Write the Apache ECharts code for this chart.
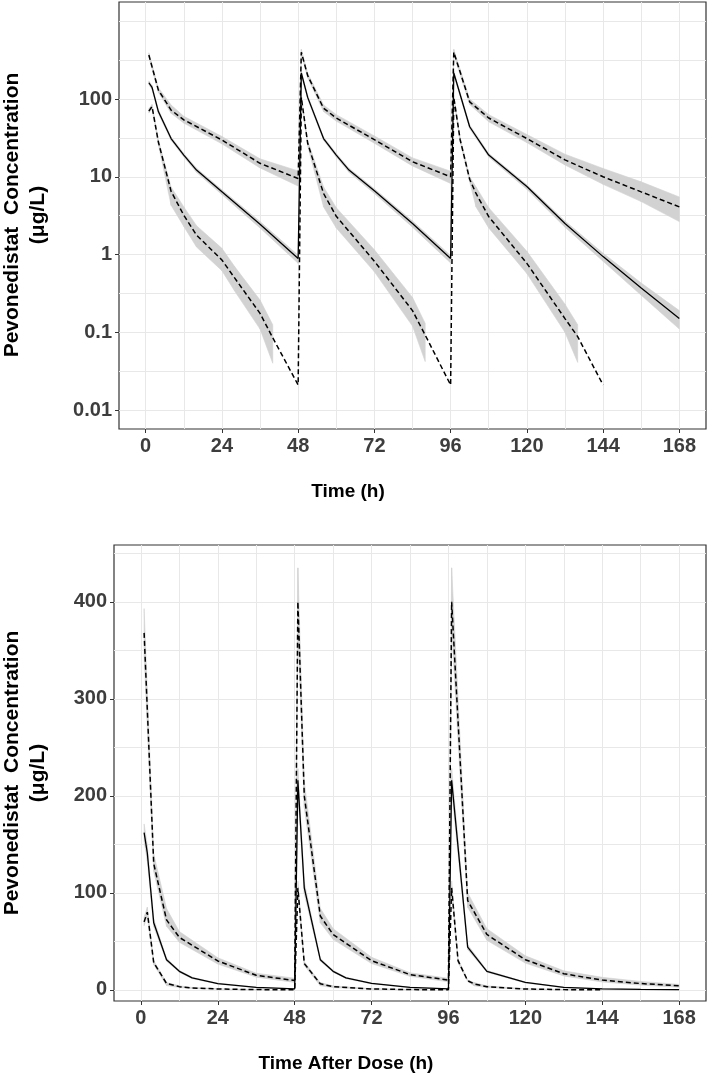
<!DOCTYPE html>
<html><head><meta charset="utf-8">
<script src="https://cdn.jsdelivr.net/npm/echarts@6/dist/echarts.min.js"></script>
<style>html,body{margin:0;padding:0;background:#fff}#c{width:709px;height:1079px}</style>
</head><body><div id="c"></div>
<script>
// ---------------- data ----------------
const xTicks = [0, 24, 48, 72, 96, 120, 144, 168];
const xMinorTicks = [12, 36, 60, 84, 108, 132, 156];
const logTicks = [0.01, 0.1, 1, 10, 100];
const logMinorTicks = [0.0316, 0.316, 3.16, 31.6, 316, 1000];
const linTicks = [0, 100, 200, 300, 400];
const linMinorTicks = [50, 150, 250, 350, 450];

// median (solid line)
const medTime = [1, 2, 4, 8, 12, 16, 24, 36, 48, 49, 51, 56, 60, 64, 72, 84, 96, 97, 102, 108, 120, 132, 144, 156, 168];
const medConc = [162, 141, 69, 31, 19, 12.2, 6.4, 2.45, 0.89, 216, 105, 31, 19, 12.2, 6.6, 2.5, 0.89, 216, 44, 19, 7.5, 2.5, 0.94, 0.37, 0.15];
const medLo   = [153, 133, 65, 29.5, 18, 11.4, 5.9, 2.2, 0.77, 205, 99, 29.5, 18, 11.4, 6.1, 2.25, 0.78, 205, 41.5, 18, 6.9, 2.25, 0.82, 0.3, 0.11];
const medHi   = [171, 149, 73, 32.5, 20, 12.9, 6.8, 2.65, 0.98, 228, 111, 32.5, 20, 12.9, 7.0, 2.7, 0.97, 228, 46.5, 20, 7.9, 2.7, 1.04, 0.43, 0.19];

// upper percentile (dashed)
const p95Time = [1, 4, 8, 12, 24, 36, 48, 49, 51, 56, 60, 72, 84, 96, 97, 102, 108, 120, 132, 144, 156, 168];
const p95Conc = [368, 130, 72, 54, 29.7, 14.9, 9.5, 400, 200, 76, 57, 30, 15.6, 10, 400, 92, 57, 31, 16.5, 10, 6.4, 4.1];
const p95Lo   = [345, 122, 65.5, 49, 26.5, 13, 7.6, 372, 188, 69, 52, 27, 13.8, 8.2, 372, 85, 51, 27.5, 14.2, 8.0, 4.8, 2.65];
const p95Hi   = [393, 140, 83.7, 60, 33, 17, 11.9, 435, 215, 84, 63, 33.5, 17.5, 11.8, 435, 100, 63, 35, 19.5, 12.8, 8.6, 5.5];

// lower percentile (dashed)
const p05Time = [1, 2, 4, 8, 12, 16, 24, 28, 36, 40, 48, 49, 51, 56, 60, 72, 84, 88, 96, 97, 99, 102, 104, 108, 120, 132, 136, 144];
const p05Conc = [70, 80, 28, 6.5, 3.2, 1.78, 0.85, 0.5, 0.175, 0.085, 0.021, 105, 27, 6.1, 3.1, 0.82, 0.19, 0.092, 0.021, 105, 30, 9.3, 6.1, 3.07, 0.77, 0.15, 0.088, 0.021];
const p05RibTime = [1, 2, 4, 8, 12, 16, 24, 28, 36, 40, null, 49, 51, 56, 60, 72, 84, 88, null, 97, 99, 102, 104, 108, 120, 132, 136];
const p05Lo      = [66, 76, 26, 4.3, 2.3, 1.25, 0.62, 0.34, 0.11, 0.04, null, 99, 25, 4.1, 2.2, 0.6, 0.12, 0.042, null, 99, 28, 8.6, 4.1, 2.2, 0.57, 0.1, 0.041];
const p05Hi      = [75, 85, 30, 7.4, 4.1, 2.35, 1.2, 0.7, 0.26, 0.125, null, 112, 29, 7.4, 4.0, 1.15, 0.28, 0.13, null, 112, 32, 10, 7.4, 4.0, 1.1, 0.23, 0.125];

// ---------------- helpers ----------------
const FONT = "'Liberation Sans', Arial, Helvetica, sans-serif";
const TICK_COLOR = '#3d3d3d';
const GRID_COLOR = '#e8e8e8';
const RIBBON = '#d2d2d2';

function pairs(T, V) { return T.map((t, i) => [t, V[i]]); }
function quads(T, LO, HI) {
  const out = [];
  for (let i = 0; i < T.length - 1; i++) {
    if (T[i] == null || T[i + 1] == null) continue;
    out.push([T[i], LO[i], HI[i], T[i + 1], LO[i + 1], HI[i + 1]]);
  }
  return out;
}
function ribbon(xi, yi, T, LO, HI) {
  return {
    type: 'custom', xAxisIndex: xi, yAxisIndex: yi, z: 2, silent: true, animation: false,
    encode: { x: [0, 3], y: [1, 2, 4, 5] },
    data: quads(T, LO, HI),
    renderItem: function (params, api) {
      const a0 = api.coord([api.value(0), api.value(2)]);
      const a1 = api.coord([api.value(3), api.value(5)]);
      const b1 = api.coord([api.value(3), api.value(4)]);
      const b0 = api.coord([api.value(0), api.value(1)]);
      return { type: 'polygon', shape: { points: [a0, a1, b1, b0] },
               style: { fill: RIBBON, stroke: RIBBON, lineWidth: 0.6 } };
    }
  };
}
function line(xi, yi, T, V, dashed) {
  return {
    type: 'line', xAxisIndex: xi, yAxisIndex: yi, z: 3, silent: true, animation: false,
    showSymbol: false, symbol: 'none', clip: true,
    data: pairs(T, V),
    lineStyle: dashed ? { color: '#000', width: 1.5, type: [5, 3] } : { color: '#000', width: 1.3, type: 'solid' }
  };
}
function mainX(gi) {
  return {
    type: 'value', gridIndex: gi, min: -8.4, max: 176.4,
    axisLine: { show: false, onZero: false },
    axisTick: { show: true, length: 4, lineStyle: { color: '#333', width: 1 }, customValues: xTicks },
    axisLabel: { show: true, customValues: xTicks, margin: 7, color: TICK_COLOR,
                 fontSize: 20, fontWeight: 'bold', fontFamily: FONT },
    splitLine: { show: true, lineStyle: { color: GRID_COLOR, width: 1 } }
  };
}
function minorX(gi) {
  return {
    type: 'value', gridIndex: gi, min: -8.4, max: 176.4,
    axisLine: { show: false, onZero: false }, axisTick: { show: false, customValues: xMinorTicks },
    axisLabel: { show: false, customValues: xMinorTicks },
    splitLine: { show: true, lineStyle: { color: GRID_COLOR, width: 1 } }
  };
}
function fmt(v) { return String(+(+v).toPrecision(3)); }
function yTitle(y) {
  return { type: 'text', x: 25, y: y, rotation: Math.PI / 2, silent: true,
    style: { text: 'Pevonedistat  Concentration\n(μg/L)', textAlign: 'center', align: 'center',
             textVerticalAlign: 'middle', verticalAlign: 'middle', lineHeight: 26,
             fontSize: 21, fontWeight: 'bold', fontFamily: FONT, fill: '#000' } };
}
function xTitle(x, y, txt) {
  return { type: 'text', x: x, y: y, silent: true,
    style: { text: txt, textAlign: 'center', align: 'center', textVerticalAlign: 'middle', verticalAlign: 'middle',
             fontSize: 19, fontWeight: 'bold', fontFamily: FONT, fill: '#000' } };
}

const option = {
  animation: false,
  backgroundColor: '#fff',
  grid: [
    { left: 119, top: 2, width: 587, height: 427, show: true, borderColor: '#333', borderWidth: 1.2, backgroundColor: '#fff', containLabel: false },
    { left: 114, top: 545, width: 592, height: 456, show: true, borderColor: '#333', borderWidth: 1.2, backgroundColor: '#fff', containLabel: false }
  ],
  xAxis: [mainX(0), minorX(0), mainX(1), minorX(1)],
  yAxis: [
    { type: 'log', logBase: 10, gridIndex: 0, min: Math.pow(10, -2.244), max: Math.pow(10, 3.248),
      axisLine: { show: false, onZero: false },
      axisTick: { show: true, length: 4, lineStyle: { color: '#333', width: 1 }, customValues: logTicks },
      axisLabel: { show: true, customValues: logTicks, margin: 7, color: TICK_COLOR, formatter: fmt,
                   fontSize: 20, fontWeight: 'bold', fontFamily: FONT },
      splitLine: { show: true, lineStyle: { color: GRID_COLOR, width: 1 } } },
    { type: 'log', logBase: 10, gridIndex: 0, min: Math.pow(10, -2.244), max: Math.pow(10, 3.248),
      axisLine: { show: false, onZero: false }, axisTick: { show: false, customValues: logMinorTicks },
      axisLabel: { show: false, customValues: logMinorTicks },
      splitLine: { show: true, lineStyle: { color: GRID_COLOR, width: 1 } } },
    { type: 'value', gridIndex: 1, min: -11.6, max: 458.6,
      axisLine: { show: false, onZero: false },
      axisTick: { show: true, length: 4, lineStyle: { color: '#333', width: 1 }, customValues: linTicks },
      axisLabel: { show: true, customValues: linTicks, margin: 7, color: TICK_COLOR,
                   fontSize: 20, fontWeight: 'bold', fontFamily: FONT },
      splitLine: { show: true, lineStyle: { color: GRID_COLOR, width: 1 } } },
    { type: 'value', gridIndex: 1, min: -11.6, max: 458.6,
      axisLine: { show: false, onZero: false }, axisTick: { show: false, customValues: linMinorTicks },
      axisLabel: { show: false, customValues: linMinorTicks },
      splitLine: { show: true, lineStyle: { color: GRID_COLOR, width: 1 } } }
  ],
  series: [
    ribbon(0, 0, p95Time, p95Lo, p95Hi),
    ribbon(0, 0, medTime, medLo, medHi),
    ribbon(0, 0, p05RibTime, p05Lo, p05Hi),
    line(0, 0, p95Time, p95Conc, true),
    line(0, 0, medTime, medConc, false),
    line(0, 0, p05Time, p05Conc, true),
    ribbon(2, 2, p95Time, p95Lo, p95Hi),
    ribbon(2, 2, medTime, medLo, medHi),
    ribbon(2, 2, p05RibTime, p05Lo, p05Hi),
    line(2, 2, p95Time, p95Conc, true),
    line(2, 2, medTime, medConc, false),
    line(2, 2, p05Time, p05Conc, true)
  ],
  graphic: [
    yTitle(215),
    xTitle(348, 492, 'Time (h)'),
    yTitle(773),
    xTitle(346, 1064, 'Time After Dose (h)')
  ]
};
const chart = echarts.init(document.getElementById('c'), null, { renderer: 'canvas' });
chart.setOption(option);
</script>
</body></html>
